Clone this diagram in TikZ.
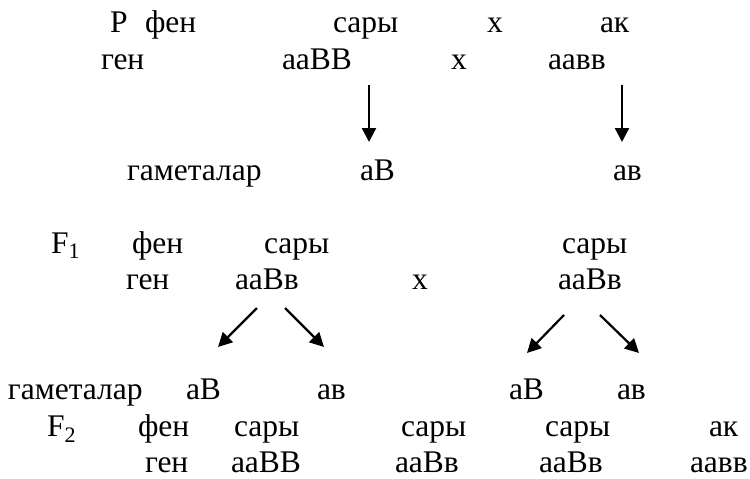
\documentclass[tikz,border=0pt]{standalone}
\usepackage{fontspec}
\setmainfont{Liberation Serif}
\usetikzlibrary{arrows.meta}
\tikzset{
  txt/.style={anchor=base west, inner sep=0pt, outer sep=0pt, font=\fontsize{31.5}{38}\selectfont},
  arr/.style={-{Triangle[length=14pt,width=14pt]}, line width=2.2pt}
}
\begin{document}
\begin{tikzpicture}[x=1pt,y=-1pt]
\useasboundingbox (0,0) rectangle (750,479);
% row 1
\node[txt] (p)    at (110,32) {P};
\node[txt] (pfen) at (145,32) {фен};
\node[txt] (psar) at (333,32) {сары};
\node[txt] (px1)  at (487,32) {х};
\node[txt] (pak)  at (600,32) {ак};
% row 2
\node[txt] (pgen) at (101,69) {ген};
\node[txt] (pg1)  at (282,69) {ааВВ};
\node[txt] (px2)  at (451,69) {х};
\node[txt] (pg2)  at (548,69) {аавв};
% arrows P -> gametes
\coordinate (a1s) at (369,85);  \coordinate (a1e) at (369,142);
\coordinate (a2s) at (622,85);  \coordinate (a2e) at (622,142);
\draw[arr] (a1s) -- (a1e);
\draw[arr] (a2s) -- (a2e);
% row 3
\node[txt] (gam1) at (127,180) {гаметалар};
\node[txt] (g1a)  at (360,180) {аВ};
\node[txt] (g1b)  at (613,180) {ав};
% row 4
\node[txt] (f1)    at (51,253) {F\textsubscript{1}};
\node[txt] (f1fen) at (132,253) {фен};
\node[txt] (f1s1)  at (264,253) {сары};
\node[txt] (f1s2)  at (562,253) {сары};
% row 5
\node[txt] (f1gen) at (126,289) {ген};
\node[txt] (f1g1)  at (235,289) {ааВв};
\node[txt] (f1x)   at (412,289) {х};
\node[txt] (f1g2)  at (558,289) {ааВв};
% arrows F1 -> gametes
\coordinate (b1s) at (257,308); \coordinate (b1e) at (218,347);
\coordinate (b2s) at (285,308); \coordinate (b2e) at (324,347);
\coordinate (b3s) at (564,315); \coordinate (b3e) at (527,353);
\coordinate (b4s) at (600,315); \coordinate (b4e) at (639,353);
\draw[arr] (b1s) -- (b1e);
\draw[arr] (b2s) -- (b2e);
\draw[arr] (b3s) -- (b3e);
\draw[arr] (b4s) -- (b4e);
% row 6
\node[txt] (gam2) at (8,399) {гаметалар};
\node[txt] (g2a)  at (186,399) {аВ};
\node[txt] (g2b)  at (317,399) {ав};
\node[txt] (g2c)  at (509,399) {аВ};
\node[txt] (g2d)  at (617,399) {ав};
% row 7
\node[txt] (f2)    at (47,436) {F\textsubscript{2}};
\node[txt] (f2fen) at (138,436) {фен};
\node[txt] (f2s1)  at (234,436) {сары};
\node[txt] (f2s2)  at (401,436) {сары};
\node[txt] (f2s3)  at (545,436) {сары};
\node[txt] (f2ak)  at (709,436) {ак};
% row 8
\node[txt] (f2gen) at (145,472) {ген};
\node[txt] (f2g1)  at (231,472) {ааВВ};
\node[txt] (f2g2)  at (395,472) {ааВв};
\node[txt] (f2g3)  at (539,472) {ааВв};
\node[txt] (f2g4)  at (690,472) {аавв};
\end{tikzpicture}
\end{document}
